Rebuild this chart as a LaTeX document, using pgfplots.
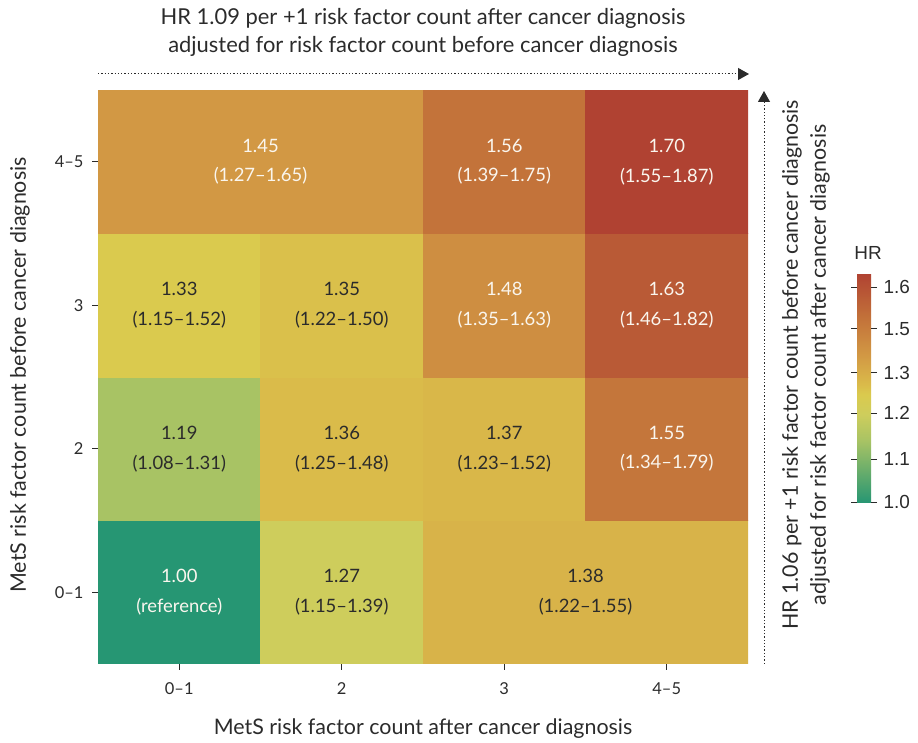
\documentclass[border=0pt]{standalone}
\usepackage{pgfplots}
\pgfplotsset{compat=1.18}
\usepackage{fontspec}
\setmainfont{Lato}
\newfontfamily\arialf{Liberation Sans}
\usetikzlibrary{arrows.meta}
\definecolor{txt}{HTML}{2B2B2B}
\definecolor{wtxt}{HTML}{FAF6EE}
\pgfplotstableread{
x y c
0 0 1.00
1 0 1.00
1 1 1.00
0 1 1.00
1 0 1.27
2 0 1.27
2 1 1.27
1 1 1.27
2 0 1.38
4 0 1.38
4 1 1.38
2 1 1.38
0 1 1.19
1 1 1.19
1 2 1.19
0 2 1.19
1 1 1.36
2 1 1.36
2 2 1.36
1 2 1.36
2 1 1.37
3 1 1.37
3 2 1.37
2 2 1.37
3 1 1.55
4 1 1.55
4 2 1.55
3 2 1.55
0 2 1.33
1 2 1.33
1 3 1.33
0 3 1.33
1 2 1.35
2 2 1.35
2 3 1.35
1 3 1.35
2 2 1.48
3 2 1.48
3 3 1.48
2 3 1.48
3 2 1.63
4 2 1.63
4 3 1.63
3 3 1.63
0 3 1.45
2 3 1.45
2 4 1.45
0 4 1.45
2 3 1.56
3 3 1.56
3 4 1.56
2 4 1.56
3 3 1.70
4 3 1.70
4 4 1.70
3 4 1.70
}\cells
\begin{document}
\begin{tikzpicture}[x=1bp,y=1bp]
\path (0,0) rectangle (918,742);
\begin{axis}[at={(98bp,78bp)}, anchor=south west, scale only axis,
  width=650bp, height=574bp,
  xmin=0, xmax=4, ymin=0, ymax=4,
  axis x line*=bottom, axis y line*=left,
  axis line style={draw=txt, line width=1pt, -},
  xtick={0.5,1.5,2.5,3.5}, xticklabels={0–1,2,3,4–5},
  ytick={0.5,1.5,2.5,3.5}, yticklabels={0–1,2,3,4–5},
  tick align=outside, major tick length=6bp,
  tick style={draw=txt, line width=0.8pt},
  ticklabel style={font=\fontsize{16.5}{18}\selectfont, text=txt},
  xticklabel style={yshift=-9bp},
  yticklabel style={xshift=-5bp},
  colormap={hr}{rgb255(0pt)=(38,150,115) rgb255(190pt)=(168,195,100) rgb255(270pt)=(206,205,92) rgb255(330pt)=(218,202,78) rgb255(360pt)=(218,187,74) rgb255(450pt)=(210,152,68) rgb255(560pt)=(195,115,58) rgb255(700pt)=(176,66,50)},
  point meta min=1.0, point meta max=1.70,
  colorbar,
  colorbar style={at={(1.1677,0.2805)}, anchor=south west, scale only axis,
    width=14bp, height=230bp,
    ytick={1.003,1.134,1.274,1.396,1.530,1.657},
    yticklabels={1.0,1.1,1.2,1.3,1.5,1.6},
    yticklabel style={font=\arialf\fontsize{19}{20}\selectfont, text=txt, xshift=3bp},
    tick align=outside, major tick length=6bp,
    tick style={draw=txt, line width=0.8pt},
    axis line style={draw=none}},
]
\addplot[patch, patch type=rectangle, shader=flat, point meta=explicit, draw=none] table[x=x, y=y, meta=c] {\cells};
\tikzset{cl/.style={align=center, font=\fontsize{18.5}{30}\selectfont, text=txt}, cw/.style={cl, text=wtxt}}
\node[cw] at (axis cs:0.5,0.5) {1.00\\(reference)};
\node[cl] at (axis cs:1.5,0.5) {1.27\\(1.15–1.39)};
\node[cl] at (axis cs:3.0,0.5) {1.38\\(1.22–1.55)};
\node[cl] at (axis cs:0.5,1.5) {1.19\\(1.08–1.31)};
\node[cl] at (axis cs:1.5,1.5) {1.36\\(1.25–1.48)};
\node[cl] at (axis cs:2.5,1.5) {1.37\\(1.23–1.52)};
\node[cw] at (axis cs:3.5,1.5) {1.55\\(1.34–1.79)};
\node[cl] at (axis cs:0.5,2.5) {1.33\\(1.15–1.52)};
\node[cl] at (axis cs:1.5,2.5) {1.35\\(1.22–1.50)};
\node[cw] at (axis cs:2.5,2.5) {1.48\\(1.35–1.63)};
\node[cw] at (axis cs:3.5,2.5) {1.63\\(1.46–1.82)};
\node[cw] at (axis cs:1.0,3.5) {1.45\\(1.27–1.65)};
\node[cw] at (axis cs:2.5,3.5) {1.56\\(1.39–1.75)};
\node[cw] at (axis cs:3.5,3.5) {1.70\\(1.55–1.87)};
\end{axis}
% titles and labels
\node[align=center, font=\fontsize{22}{28}\selectfont, text=txt] at (423,710) {HR 1.09 per +1 risk factor count after cancer diagnosis\\adjusted for risk factor count before cancer diagnosis};
\node[align=center, font=\fontsize{21.5}{28}\selectfont, text=txt, rotate=90] at (806,377) {HR 1.06 per +1 risk factor count before cancer diagnosis\\adjusted for risk factor count after cancer diagnosis};
\node[font=\fontsize{21.5}{22}\selectfont, text=txt, rotate=90] at (20,367) {MetS risk factor count before cancer diagnosis};
\node[font=\fontsize{21.5}{22}\selectfont, text=txt] at (423,13) {MetS risk factor count after cancer diagnosis};
\node[font=\arialf\fontsize{19}{20}\selectfont, text=txt] at (868,489) {HR};
% arrows
\draw[txt, line width=1pt, dash pattern=on 1.3bp off 2bp, -{Triangle[length=11bp,width=12bp]}] (98,668) -- (749,668);
\draw[txt, line width=1pt, dash pattern=on 1.3bp off 2bp, -{Triangle[length=11bp,width=12bp]}] (764,78) -- (764,651);
\end{tikzpicture}
\end{document}
